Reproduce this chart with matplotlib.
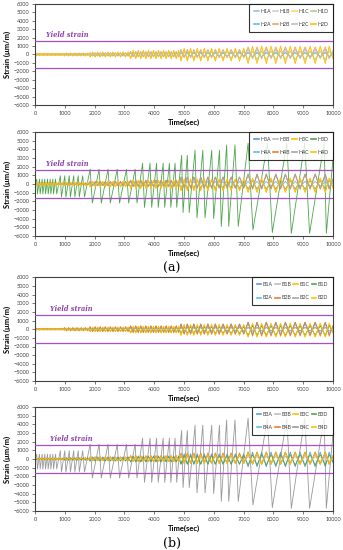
import matplotlib
matplotlib.use("Agg")
import matplotlib.pyplot as plt

# ---- small gauges: loading cycle peak times (sec) and load level of each ----
cyc_t = [60, 150, 240, 330, 420, 510, 600, 690, 780, 870,
         990, 1130, 1270, 1410, 1550, 1690,
         1850, 2020, 2190, 2360, 2530, 2700, 2870, 3040,
         3210, 3380, 3550, 3720, 3890, 4060, 4230, 4400, 4570, 4740,
         4900, 5110, 5330, 5560, 5800, 6050, 6310, 6580, 6860,
         7150, 7450, 7760, 8080, 8400, 8730, 9060, 9400, 9740]
cyc_lvl = [0]*10 + [1]*6 + [2]*8 + [3]*10 + [4]*9 + [5]*9

# ---- large spiking gauge (H3D / B4C): spike times, peaks and troughs ----
big_t = [60, 150, 240, 330, 420, 510, 600, 690,
         850, 1000, 1150, 1300, 1450, 1600,
         1850, 2150, 2450, 2760, 3070, 3360,
         3610, 3860, 4080, 4300, 4510, 4700,
         4920, 5110, 5370, 5630, 5930, 6190,
         6430, 6710, 7150, 7800, 8450, 9050, 9700]
big_pk = [550, 560, 560, 560, 560, 560, 560, 560,
          950, 950, 950, 950, 950, 950,
          1700, 1700, 1700, 1700, 1700, 1700,
          2400, 2400, 2400, 2400, 2400, 2400,
          3300, 3300, 3900, 3900, 3900, 3900,
          4500, 4500, 4700, 4700, 4700, 4700, 4700]
big_lo = [-1150, -1150, -1150, -1150, -1150, -1150, -1150, -1150,
          -1500, -1500, -1500, -1500, -1500, -1500,
          -2200, -2200, -2200, -2200, -2200, -2200,
          -2700, -2700, -2700, -2700, -2700, -2700,
          -3300, -3300, -3900, -3900, -4000, -4900,
          -4900, -4900, -5300, -5600, -5700, -5700, -5700]

# ---- small gauges: positive / negative peak for each load level ----
# phase 1: positive peak at the cycle time, -1: negative peak at the cycle time
p1_names = ["H1A", "H1B", "H1C", "H1D", "H2A", "H2B", "H2C", "H2D"]
p1_phase = [1, 1, -1, -1, 1, 1, 1, -1]
p1_up = [[60, 80, 150, 200, 250, 300], [80, 100, 200, 350, 500, 700],
         [100, 150, 250, 400, 600, 800], [60, 80, 150, 250, 350, 400],
         [50, 60, 100, 150, 200, 200], [80, 100, 200, 350, 600, 900],
         [60, 80, 150, 250, 400, 600], [150, 200, 300, 500, 750, 1000]]
p1_dn = [[-60, -80, -150, -200, -250, -300], [-60, -80, -150, -250, -300, -400],
         [-100, -150, -300, -500, -700, -900], [-80, -100, -200, -300, -450, -600],
         [-50, -60, -100, -150, -200, -250], [-60, -100, -200, -300, -400, -500],
         [-60, -80, -150, -200, -300, -400], [-150, -200, -300, -500, -800, -1100]]

p2_names = ["H3A", "H3B", "H3C", "H3D", "H4A", "H4B", "H4C", "H4D"]
p2_phase = [-1, 1, -1, 1, 1, 1, 1, -1]
p2_up = [[80, 100, 200, 300, 400, 400], [80, 100, 250, 400, 800, 1200],
         [150, 200, 300, 450, 600, 700], None,
         [60, 80, 150, 250, 300, 300], [100, 150, 300, 450, 800, 1100],
         [80, 100, 200, 400, 800, 1100], [150, 200, 300, 400, 500, 600]]
p2_dn = [[-80, -100, -200, -300, -500, -600], [-60, -80, -150, -250, -400, -500],
         [-150, -200, -350, -500, -800, -1000], None,
         [-60, -80, -150, -250, -300, -300], [-80, -100, -200, -300, -500, -600],
         [-60, -80, -150, -250, -400, -500], [-150, -200, -300, -500, -700, -900]]

p3_names = ["B1A", "B1B", "B1C", "B1D", "B2A", "B2B", "B2C", "B2D"]
p3_phase = [1, 1, -1, -1, 1, 1, 1, -1]
p3_up = [[60, 100, 200, 350, 600, 800], [50, 60, 100, 150, 200, 200],
         [80, 120, 200, 300, 500, 600], [60, 80, 150, 200, 300, 400],
         [50, 80, 150, 250, 400, 600], [100, 200, 300, 400, 600, 800],
         [50, 60, 100, 150, 200, 200], [100, 150, 250, 350, 550, 700]]
p3_dn = [[-60, -100, -200, -350, -500, -600], [-50, -60, -100, -150, -200, -200],
         [-80, -150, -250, -400, -700, -900], [-60, -100, -200, -350, -500, -700],
         [-50, -80, -150, -250, -400, -600], [-100, -200, -300, -400, -600, -800],
         [-50, -60, -100, -150, -200, -200], [-100, -150, -300, -450, -700, -900]]

p4_names = ["B3A", "B3B", "B3C", "B3D", "B4A", "B4B", "B4C", "B4D"]
p4_phase = [-1, 1, 1, -1, 1, 1, 1, 1]
p4_up = [[100, 150, 250, 350, 600, 800], [60, 80, 150, 200, 300, 300],
         [80, 120, 200, 300, 600, 800], [60, 100, 150, 250, 400, 500],
         [80, 120, 200, 300, 500, 600], [100, 150, 250, 400, 700, 800],
         None, [80, 100, 200, 300, 500, 700]]
p4_dn = [[-100, -150, -250, -350, -600, -900], [-60, -80, -150, -200, -300, -300],
         [-80, -120, -200, -300, -500, -600], [-60, -100, -200, -300, -600, -700],
         [-80, -120, -200, -300, -500, -600], [-80, -120, -200, -300, -500, -600],
         None, [-80, -100, -200, -300, -500, -600]]

yield_strain = 1600

c_top = ["#9DC3E6", "#D0D0D0", "#FFD966", "#A9D18E",
         "#5BC0EB", "#F4A460", "#BFBFBF", "#FFC000"]
c_mid = ["#5B9BD5", "#BDBDBD", "#FFC000", "#4EA64A",
         "#5BC0EB", "#ED7D31", "#A5A5A5", "#FFC000"]
c_low = ["#5B9BD5", "#BDBDBD", "#FFC000", "#4EA64A",
         "#5BC0EB", "#ED7D31", "#999999", "#FFC000"]

plt.rcParams["font.family"] = ["Lato", "DejaVu Sans"]

fig = plt.figure(figsize=(3.43, 5.5), dpi=100)
boxes = [[0.102, 0.809, 0.869, 0.184],
         [0.102, 0.571, 0.869, 0.189],
         [0.102, 0.307, 0.869, 0.189],
         [0.102, 0.071, 0.869, 0.189]]


def small_series(up, dn, phase):
    first, second = (up, dn) if phase > 0 else (dn, up)
    xs, ys = [0], [0]
    for i, t in enumerate(cyc_t):
        nxt = cyc_t[i + 1] if i + 1 < len(cyc_t) else 10000
        xs += [t, (t + nxt) / 2]
        ys += [first[cyc_lvl[i]], second[cyc_lvl[i]]]
    xs.append(10000)
    ys.append(first[-1] * 0.5)
    return xs, ys


def big_series():
    xs, ys = [0], [0]
    for i, t in enumerate(big_t):
        nxt = big_t[i + 1] if i + 1 < len(big_t) else 10000
        xs += [t, t + (nxt - t) * 0.25]
        ys += [big_pk[i], big_lo[i]]
    xs.append(10000)
    ys.append(3000)
    return xs, ys


panels = [(p1_names, p1_up, p1_dn, p1_phase, c_top),
          (p2_names, p2_up, p2_dn, p2_phase, c_mid),
          (p3_names, p3_up, p3_dn, p3_phase, c_mid),
          (p4_names, p4_up, p4_dn, p4_phase, c_low)]
order = [0, 4, 1, 5, 2, 6, 3, 7]

for k, (names, ups, dns, phs, cols) in enumerate(panels):
    ax = fig.add_axes(boxes[k])
    for j, name in enumerate(names):
        if ups[j] is None:
            xs, ys = big_series()
            ax.plot(xs, ys, color=cols[j], lw=0.6, label=name, zorder=1)
        else:
            xs, ys = small_series(ups[j], dns[j], phs[j])
            ax.plot(xs, ys, color=cols[j], lw=0.6, label=name, zorder=2)
    ax.axhline(yield_strain, color="#A64FC9", lw=0.9, zorder=5)
    ax.axhline(-yield_strain, color="#A64FC9", lw=0.9, zorder=5)
    ax.text(370 if k < 2 else 500, 2300, "Yield strain", color="#8E44AD",
            fontsize=4.8, style="italic", weight="bold",
            family="DejaVu Serif", va="center", zorder=6)
    ax.set_xlim(0, 10000)
    ax.set_ylim(-6000, 6000)
    ax.set_xticks(range(0, 10001, 1000))
    ax.set_yticks(range(-6000, 6001, 1000))
    ax.tick_params(labelsize=4, length=2, width=0.5, colors="#404040", pad=2)
    for s in ax.spines.values():
        s.set_color("#404040")
        s.set_linewidth(0.8)
    ax.set_xlabel("Time(sec)", fontsize=5.5, weight="bold", labelpad=2)
    ax.set_ylabel("Strain (\u03bcm/m)", fontsize=5.5, weight="bold", labelpad=2)
    h, l = ax.get_legend_handles_labels()
    leg = ax.legend([h[i] for i in order], [l[i] for i in order],
                    loc="upper right", ncol=4, fontsize=3.8, frameon=True,
                    fancybox=False, borderaxespad=0, handlelength=0.9,
                    columnspacing=0.45, handletextpad=0.25, borderpad=0.9,
                    labelspacing=1.6)
    leg.get_frame().set_edgecolor("black")
    leg.get_frame().set_linewidth(0.8)
    for txt in leg.get_texts():
        txt.set_color("#404040")
    for lh in leg.get_lines():
        lh.set_linewidth(1.2)

fig.text(0.5, 1 - 268 / 550, "(a)", ha="center", va="center",
         fontsize=9, family="DejaVu Serif")
fig.text(0.5, 1 - 543 / 550, "(b)", ha="center", va="center",
         fontsize=9, family="DejaVu Serif")

fig.savefig("out.png", dpi=100)
